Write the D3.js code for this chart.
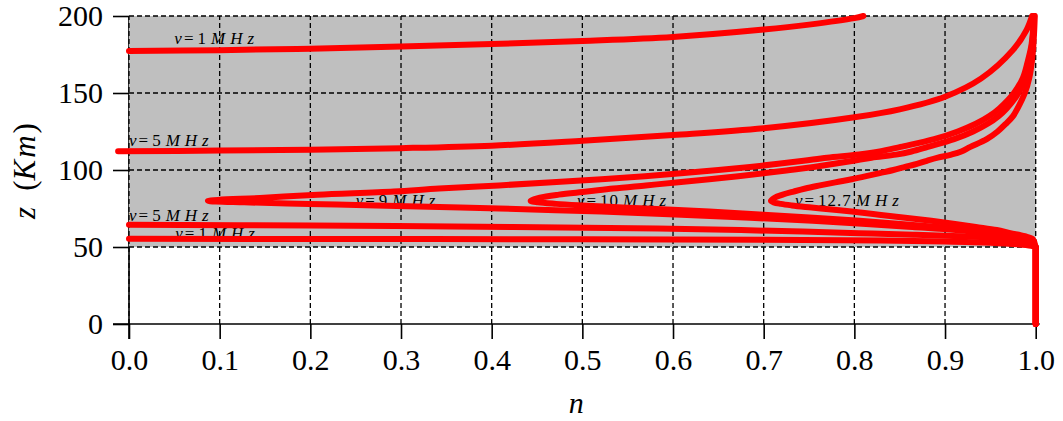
<!DOCTYPE html>
<html>
<head>
<meta charset="utf-8">
<script src="https://cdn.jsdelivr.net/npm/d3@7"></script>
<style>
  body { margin: 0; background: #fff; }
  svg { display: block; }
  text { font-family: "Liberation Serif", "DejaVu Serif", serif; fill: #000; }
</style>
</head>
<body>
<div id="chart"></div>
<script>
// axis ticks
const nTicks = [0, 0.1, 0.2, 0.3, 0.4, 0.5, 0.6, 0.7, 0.8, 0.9, 1.0];
const zTicks = [0, 50, 100, 150, 200];
// shaded ionised layer (km)
const layerZ = [50, 200];

// below the layer n = 1 for every frequency
const groundPath = [[1, 0], [1, 50]];

// [n, z]
const f1Lower = [[1, 50], [0.995, 50.8], [0.98, 51.8], [0.95, 52.8], [0.9, 53.6], [0.83, 54.2],
  [0.7, 54.7], [0.5, 55.0], [0.25, 55.2], [0, 55.3]];
const f1Upper = [[0, 177.3], [0.1, 177.8], [0.2, 178.8], [0.3, 180.2], [0.4, 181.8], [0.5, 183.8],
  [0.6, 186.4], [0.7, 191.2], [0.75, 194.4], [0.8, 198.6], [0.81, 200]];

const f5Lower = [[1, 50], [0.997, 51], [0.99, 53], [0.98, 55], [0.955, 56], [0.917, 57], [0.865, 58],
  [0.805, 59], [0.743, 60], [0.675, 61], [0.583, 62], [0.424, 63], [0.2, 64], [0, 64.4]];
const f5Upper = [[-0.012, 112.2], [0.1, 112.6], [0.2, 113.2], [0.3, 114.2], [0.4, 115.8], [0.5, 119.0],
  [0.6, 122.7], [0.7, 127.1], [0.8, 134.2], [0.85, 139.4], [0.9, 147.6], [0.94, 159.5],
  [0.975, 178], [0.99, 191], [0.996, 200]];

const f9Lower = [[1, 50], [0.999, 51], [0.997, 53], [0.994, 55], [0.975, 57], [0.944, 59], [0.912, 61],
  [0.864, 63], [0.813, 65], [0.754, 67], [0.685, 69], [0.609, 71], [0.521, 73], [0.408, 75],
  [0.342, 76], [0.272, 77], [0.199, 78], [0.127, 79], [0.087, 80]];
const f9Upper = [[0.149, 82], [0.208, 84], [0.292, 86], [0.342, 88], [0.408, 90], [0.467, 92],
  [0.521, 94], [0.569, 96], [0.612, 98], [0.650, 100], [0.685, 102], [0.716, 104], [0.744, 106],
  [0.770, 108], [0.805, 110], [0.828, 112], [0.851, 115], [0.888, 120], [0.914, 125], [0.934, 130],
  [0.949, 135], [0.960, 140], [0.976, 150], [0.986, 160], [0.991, 170], [0.995, 180],
  [0.997, 190], [0.998, 200]];

const f10Lower = [[1, 50], [0.999, 51], [0.995, 55], [0.98, 57], [0.955, 59], [0.930, 61], [0.892, 63],
  [0.851, 65], [0.806, 67], [0.755, 69], [0.700, 71], [0.640, 73], [0.570, 75], [0.534, 76],
  [0.500, 77], [0.471, 78], [0.451, 79], [0.443, 80]];
const f10Upper = [[0.453, 82], [0.474, 84], [0.505, 86], [0.534, 88], [0.570, 90], [0.606, 92],
  [0.640, 94], [0.672, 96], [0.702, 98], [0.729, 100], [0.755, 102], [0.778, 104], [0.799, 106],
  [0.819, 108], [0.846, 110], [0.863, 112], [0.881, 115], [0.910, 120], [0.931, 125], [0.947, 130],
  [0.959, 135], [0.968, 140], [0.981, 150], [0.988, 160], [0.993, 170], [0.9956, 180],
  [0.9973, 190], [0.9983, 200]];

const f127Lower = [[1, 50], [0.9995, 51], [0.997, 55], [0.988, 57], [0.972, 59], [0.957, 61],
  [0.934, 63], [0.911, 65], [0.885, 67], [0.856, 69], [0.827, 71], [0.797, 73], [0.763, 75],
  [0.746, 76], [0.731, 77], [0.719, 78], [0.711, 79], [0.708, 80]];
const f127Upper = [[0.712, 82], [0.721, 84], [0.733, 86], [0.746, 88], [0.762, 90], [0.779, 92],
  [0.797, 94], [0.813, 96], [0.828, 98], [0.843, 100], [0.856, 102], [0.869, 104], [0.880, 106],
  [0.892, 108], [0.907, 110], [0.918, 112], [0.928, 115], [0.946, 120], [0.958, 125], [0.967, 130],
  [0.975, 135], [0.980, 140], [0.988, 150], [0.993, 160], [0.9957, 170], [0.9973, 180],
  [0.9983, 190], [0.999, 200]];

// each drawn path: ground + lower branch, upper branch separately where n is imaginary between
const paths = [
  groundPath.concat(f1Lower), f1Upper,
  groundPath.concat(f5Lower), f5Upper,
  groundPath.concat(f9Lower, f9Upper),
  groundPath.concat(f10Lower, f10Upper),
  groundPath.concat(f127Lower, f127Upper)
];

// curve labels: frequency text and anchor [n, z]
const labelFreqs = ['1', '5', '9', '10', '12.7', '5', '1'];
const labelAnchors = [[0.05, 181.8], [0.0, 115.6], [0.25, 76.6], [0.494, 76.6], [0.7345, 76.6],
  [0.0, 67.2], [0.051, 55.5]];

const width = 1063;
const height = 421;

const x = d3.scaleLinear().domain([0, 1]).range([129, 1035.7]);
const y = d3.scaleLinear().domain([0, 200]).range([324, 16]);

const svg = d3.select('#chart')
  .append('svg')
  .attr('width', width)
  .attr('height', height);

// axis lines (partly covered by the shaded layer, as in the figure)
svg.append('line')
  .attr('x1', x(0) - 16).attr('x2', x(1) + 4)
  .attr('y1', y(0)).attr('y2', y(0))
  .attr('stroke', '#000').attr('stroke-width', 1.6);
svg.append('line')
  .attr('x1', x(0)).attr('x2', x(0))
  .attr('y1', y(200)).attr('y2', y(0) + 15)
  .attr('stroke', '#000').attr('stroke-width', 1.6);

svg.append('rect')
  .attr('x', x(0))
  .attr('y', y(layerZ[1]))
  .attr('width', x(1) - x(0))
  .attr('height', y(layerZ[0]) - y(layerZ[1]))
  .attr('fill', '#bfbfbf');

// dashed grid
const grid = svg.append('g')
  .attr('stroke', '#000')
  .attr('stroke-width', 1.3)
  .attr('stroke-dasharray', '5,3');

grid.selectAll('line.v')
  .data(nTicks)
  .join('line')
  .attr('class', 'v')
  .attr('x1', d => x(d)).attr('x2', d => x(d))
  .attr('y1', y(0)).attr('y2', y(200));

grid.selectAll('line.h')
  .data(zTicks.filter(d => d > 0))
  .join('line')
  .attr('class', 'h')
  .attr('x1', x(0)).attr('x2', x(1))
  .attr('y1', d => y(d)).attr('y2', d => y(d));

const xAxis = d3.axisBottom(x)
  .tickValues(nTicks)
  .tickFormat(d3.format('.1f'))
  .tickSize(15)
  .tickPadding(10);

const yAxis = d3.axisLeft(y)
  .tickValues(zTicks)
  .tickFormat(d3.format('d'))
  .tickSize(16)
  .tickPadding(10);

const gx = svg.append('g')
  .attr('transform', `translate(0, ${y(0)})`)
  .call(xAxis);
const gy = svg.append('g')
  .attr('transform', `translate(${x(0)}, 0)`)
  .call(yAxis);

for (const g of [gx, gy]) {
  g.select('.domain').remove();
  g.selectAll('.tick line').attr('stroke', '#000').attr('stroke-width', 1.6);
  g.selectAll('.tick text')
    .attr('fill', '#000')
    .style('font-family', '"Liberation Serif", serif')
    .style('font-size', '30px');
}

// curve labels (under the curves)
const labels = svg.append('g')
  .style('font-size', '17px')
  .attr('fill', '#222');

labels.selectAll('text')
  .data(labelFreqs)
  .join('text')
  .attr('x', (d, i) => x(labelAnchors[i][0]))
  .attr('y', (d, i) => y(labelAnchors[i][1]))
  .each(function (d) {
    const t = d3.select(this);
    t.append('tspan').style('font-style', 'italic').text('\u03bd');
    t.append('tspan').attr('dx', 2).text('=');
    t.append('tspan').attr('dx', 4).style('letter-spacing', '1px').text(d);
    t.append('tspan')
      .attr('dx', 4)
      .style('font-style', 'italic')
      .style('letter-spacing', '5px')
      .text('MHz');
  });

// refractive index curves
const line = d3.line()
  .x(d => x(d[0]))
  .y(d => y(d[1]))
  .curve(d3.curveCatmullRom.alpha(0.5));

svg.append('g')
  .selectAll('path')
  .data(paths)
  .join('path')
  .attr('d', line)
  .attr('fill', 'none')
  .attr('stroke', '#ff0000')
  .attr('stroke-width', 6)
  .attr('stroke-linecap', 'round')
  .attr('stroke-linejoin', 'round');

// axis titles
svg.append('text')
  .attr('x', (x(0) + x(1)) / 2 - 6)
  .attr('y', 413)
  .attr('text-anchor', 'middle')
  .style('font-size', '30px')
  .style('font-style', 'italic')
  .text('n');

const yTitle = svg.append('text')
  .attr('transform', `translate(35, ${(y(0) + y(200)) / 2 + 1}) rotate(-90)`)
  .attr('text-anchor', 'middle')
  .style('font-size', '31px');
yTitle.append('tspan').style('font-style', 'italic').text('z');
yTitle.append('tspan').attr('dx', 16).text('(');
yTitle.append('tspan').style('font-style', 'italic').style('letter-spacing', '2px').text('Km');
yTitle.append('tspan').text(')');
</script>
</body>
</html>
